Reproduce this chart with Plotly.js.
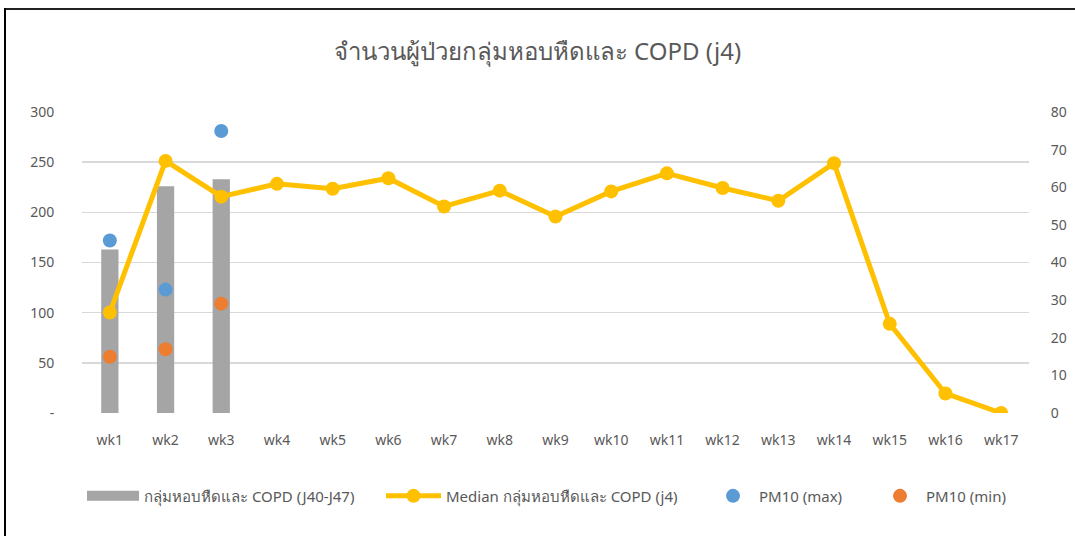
<!DOCTYPE html>
<html>
<head>
<meta charset="utf-8">
<script src="https://cdn.plot.ly/plotly-3.0.1.min.js"></script>
<style>
html,body{margin:0;padding:0;background:#fff;}
#chart{position:absolute;left:0;top:0;width:1075px;height:536px;}
#frameTop{position:absolute;left:4px;top:8px;width:1071px;height:2px;background:#222;pointer-events:none;}
#frameLeft{position:absolute;left:4px;top:8px;width:2px;height:528px;background:#000;pointer-events:none;}
</style>
</head>
<body>
<div id="chart"></div>
<div id="frameTop"></div>
<div id="frameLeft"></div>
<script>
var weeks = ['wk1','wk2','wk3','wk4','wk5','wk6','wk7','wk8','wk9','wk10','wk11','wk12','wk13','wk14','wk15','wk16','wk17'];
var barWeeks = ['wk1','wk2','wk3'];
var patients = [163, 226, 233];
var median = [26.7, 67.0, 57.5, 60.9, 59.6, 62.4, 54.9, 59.1, 52.2, 58.9, 63.7, 59.8, 56.4, 66.4, 23.7, 5.2, 0];
var pm10Max = [172, 123, 281];
var pm10Min = [56, 63.5, 109];
var leftTicks = [0, 50, 100, 150, 200, 250, 300];
var leftTickText = ['-', '50', '100', '150', '200', '250', '300'];
var rightTicks = [0, 10, 20, 30, 40, 50, 60, 70, 80];

var FONT = '"Noto Sans", "Open Sans", sans-serif';
var TXT = '#595959';
var BAR_NAME = 'กลุ่มหอบหืดและ COPD (J40-J47)';

var traces = [
  {type:'bar', x:barWeeks, y:patients, name:BAR_NAME,
   marker:{color:'#a5a5a5'}, width:0.31, yaxis:'y', showlegend:false},
  {type:'scatter', mode:'lines', x:[null], y:[null], name:BAR_NAME,
   line:{color:'#a5a5a5', width:15}, yaxis:'y', legend:'legend', hoverinfo:'skip'},
  {type:'scatter', mode:'lines+markers', x:weeks, y:median, name:'Median กลุ่มหอบหืดและ COPD (j4)',
   line:{color:'#ffc000', width:5}, marker:{color:'#ffc000', size:14}, yaxis:'y2', legend:'legend2'},
  {type:'scatter', mode:'markers', x:barWeeks, y:pm10Max, name:'PM10 (max)',
   marker:{color:'#5b9bd5', size:14}, yaxis:'y', legend:'legend3'},
  {type:'scatter', mode:'markers', x:barWeeks, y:pm10Min, name:'PM10 (min)',
   marker:{color:'#ed7d31', size:14}, yaxis:'y', legend:'legend4'}
];

function leg(x, w) {
  return {orientation:'h', x:x, xanchor:'left', y:-0.276, yanchor:'middle',
          font:{family:FONT, size:15, color:TXT}, itemwidth:w, bgcolor:'rgba(0,0,0,0)'};
}

var layout = {
  width:1075, height:536,
  paper_bgcolor:'#fff', plot_bgcolor:'#fff',
  margin:{l:82, r:46, t:112, b:123},
  font:{family:FONT, color:TXT, size:14},
  title:{text:'จำนวนผู้ป่วยกลุ่มหอบหืดและ COPD (j4)', font:{family:FONT, size:24, color:TXT},
         x:0.5, xanchor:'center', y:1-52/536, yanchor:'middle', yref:'container'},
  showlegend:true,
  legend:leg((82-82)/947, 52),
  legend2:leg((381-82)/947, 55),
  legend3:leg((707-82)/947, 42),
  legend4:leg((874-82)/947, 42),
  xaxis:{type:'category', categoryorder:'array', categoryarray:weeks, range:[-0.5,16.5],
         showgrid:false, zeroline:false, showline:false,
         ticks:'outside', ticklen:14, tickcolor:'rgba(0,0,0,0)',
         tickfont:{family:FONT, size:14, color:TXT}},
  yaxis:{range:[0,300], tickvals:leftTicks, ticktext:leftTickText,
         showgrid:true, gridcolor:'#d9d9d9', gridwidth:1.5, zeroline:false, showline:false,
         ticks:'outside', ticklen:24, tickcolor:'rgba(0,0,0,0)',
         tickfont:{family:FONT, size:14, color:TXT}},
  yaxis2:{range:[0,80], tickvals:rightTicks, overlaying:'y', side:'right',
          showgrid:false, zeroline:false, showline:false,
          ticks:'outside', ticklen:18, tickcolor:'rgba(0,0,0,0)',
          tickfont:{family:FONT, size:14, color:TXT}},
  bargap:0.69
};

Plotly.newPlot('chart', traces, layout, {displayModeBar:false, staticPlot:true});
</script>
</body>
</html>
